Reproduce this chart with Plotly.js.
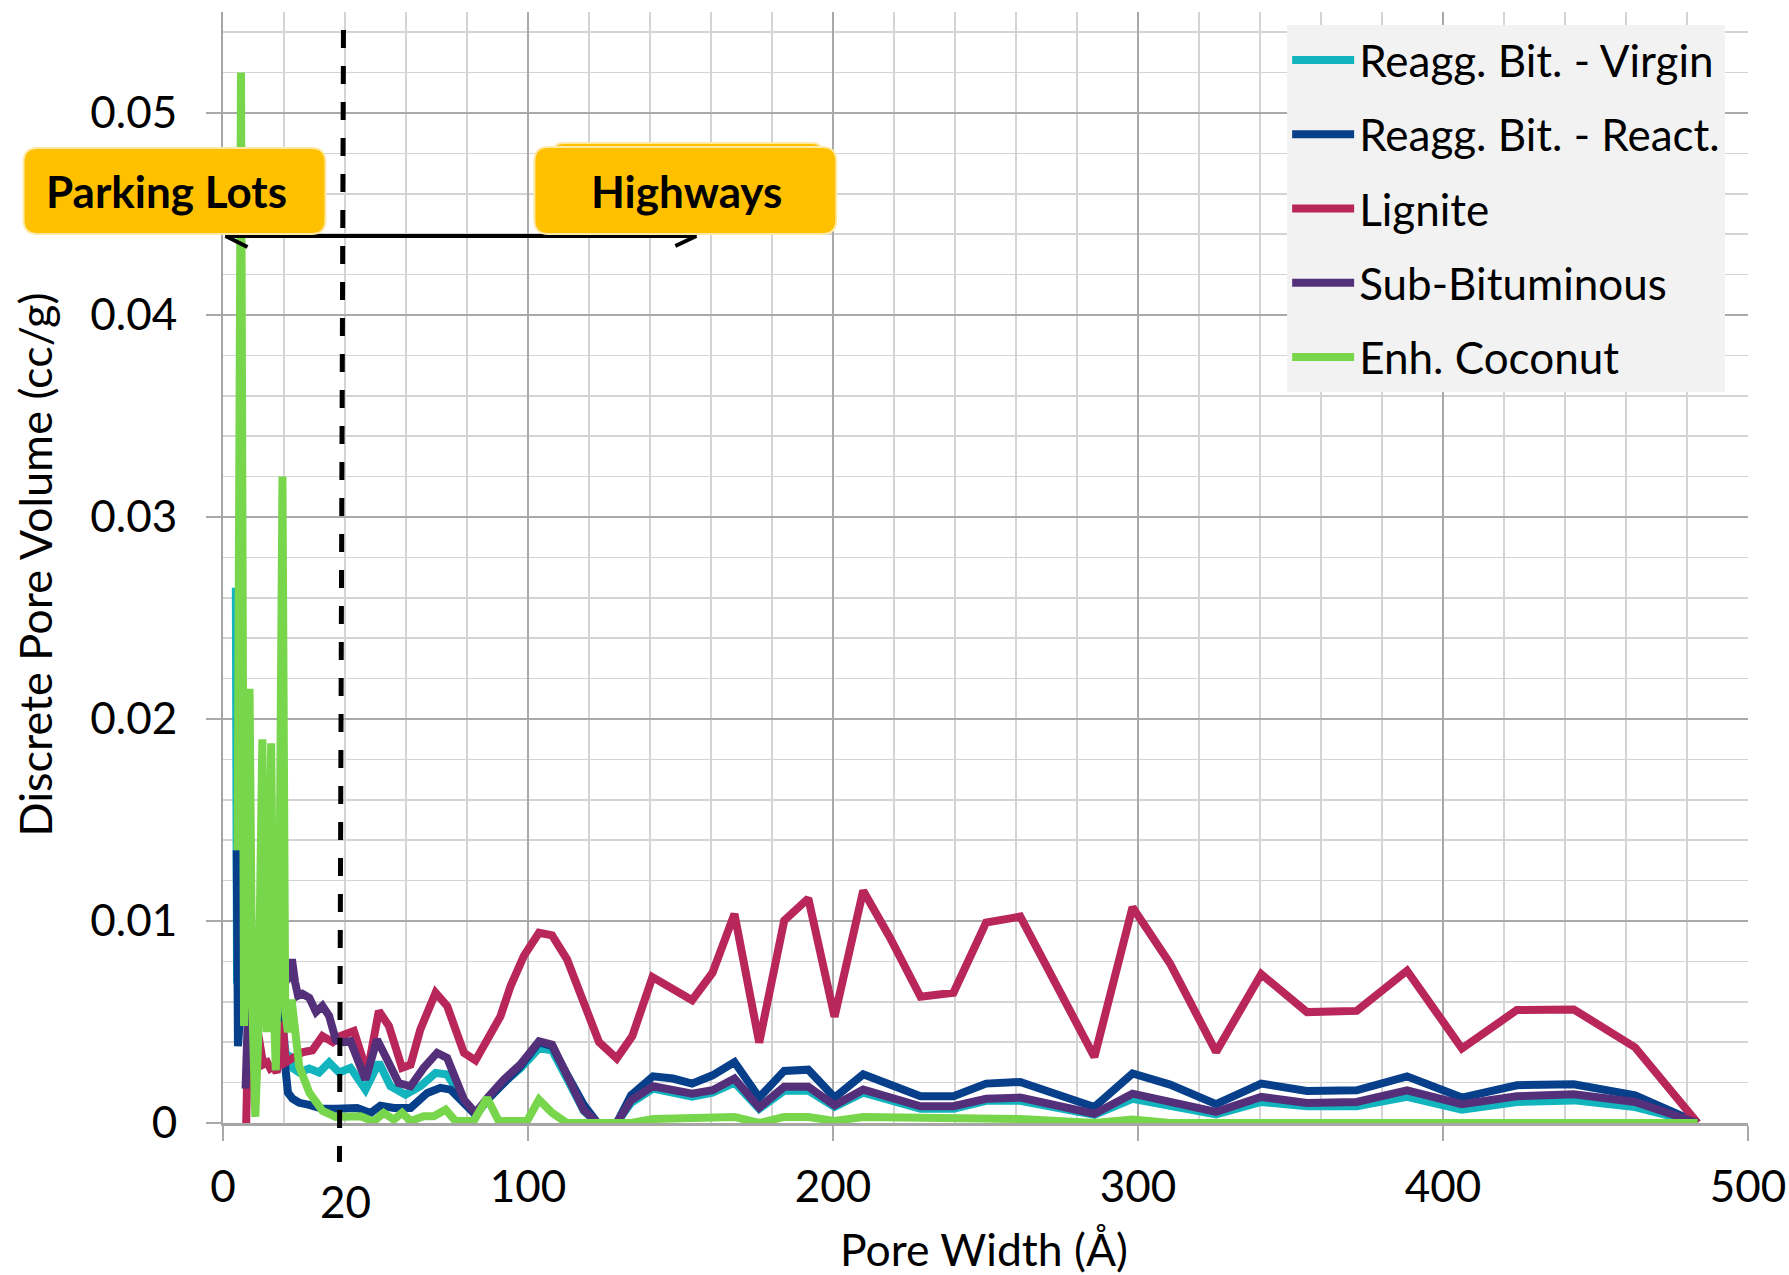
<!DOCTYPE html>
<html>
<head>
<meta charset="utf-8">
<script src="https://cdn.plot.ly/plotly-3.0.1.min.js"></script>
<style>html,body{margin:0;padding:0;background:#fff;}#chart{width:1789px;height:1275px;}</style>
</head>
<body>
<div id="chart"></div>
<script>
// ---- Series names ----
var seriesNames = ["Reagg. Bit. - Virgin", "Reagg. Bit. - React.", "Lignite", "Sub-Bituminous", "Enh. Coconut"];
var seriesColors = ["#12b4bd", "#073f8a", "#b9265a", "#55307a", "#78d64c"];

// ---- Reagg. Bit. - Virgin ----
var xVirgin = [4.2, 4.6, 6.5, 10, 14, 18, 19.8, 20.6, 21.8, 23.0, 25.0, 28.3, 31.5, 34.8, 38.1, 41.8, 46.7, 51.1, 54.9, 59.8, 64.7, 69.7, 73.5, 79.0, 82.8, 87.0, 92.1, 97.5, 103.6, 107.9, 112.8, 118.3, 122.8, 129.1, 133.8, 141.0, 153.8, 160.5, 167.7, 175.8, 184.0, 191.9, 200.5, 209.9, 228.7, 239.5, 250.2, 261.4, 285.7, 298.2, 325.6, 340.4, 355.4, 371.7, 388.2, 406.2, 424.2, 442.9, 463.0, 483.5];
var yVirgin = [0.0265, 0.0070, 0.0062, 0.0066, 0.0062, 0.0058, 0.0045, 0.0034, 0.0033, 0.0027, 0.0025, 0.0027, 0.0025, 0.0030, 0.0025, 0.00273, 0.00165, 0.0030, 0.00182, 0.0014, 0.00182, 0.00248, 0.0024, 0.0011, 0.0004, 0.0012, 0.0020, 0.0027, 0.0037, 0.0036, 0.0022, 0.0006, 0.0, 0.0, 0.0010, 0.0017, 0.0013, 0.0015, 0.0020, 0.0007, 0.0016, 0.0016, 0.0008, 0.0015, 0.0007, 0.0007, 0.0011, 0.0011, 0.0004, 0.0012, 0.00043, 0.00104, 0.00083, 0.00083, 0.00129, 0.00066, 0.00104, 0.00112, 0.00079, 0.0];

// ---- Reagg. Bit. - React. ----
var xReact = [4.5, 4.9, 6.2, 9.0, 12.0, 15.0, 18.0, 19.6, 20.4, 21.3, 22.8, 25.0, 28.3, 32.6, 37.0, 41.0, 44.0, 48.4, 51.6, 56.0, 61.5, 67.0, 71.3, 74.6, 79.0, 82.8, 87.0, 92.1, 97.5, 103.6, 107.9, 112.8, 118.3, 122.8, 129.1, 133.8, 141.0, 147.5, 153.8, 160.5, 167.7, 175.8, 184.0, 191.9, 200.5, 209.9, 218.6, 228.7, 239.5, 250.2, 261.4, 285.7, 298.2, 310.5, 325.6, 340.4, 355.4, 371.7, 388.2, 406.2, 424.2, 442.9, 463.0, 483.5];
var yReact = [0.0135, 0.0038, 0.0065, 0.0070, 0.0068, 0.0065, 0.0060, 0.0045, 0.0028, 0.0015, 0.0012, 0.0010, 0.0009, 0.0007, 0.0007, 0.00074, 0.00074, 0.0005, 0.00086, 0.00074, 0.00074, 0.00149, 0.00174, 0.00165, 0.00091, 0.00041, 0.0012, 0.0020, 0.0028, 0.0040, 0.0038, 0.0024, 0.0009, 0.0, 0.0, 0.00137, 0.00231, 0.0022, 0.00195, 0.00236, 0.00302, 0.00126, 0.00258, 0.00264, 0.00126, 0.00241, 0.0019, 0.00132, 0.00132, 0.00195, 0.00203, 0.00079, 0.00245, 0.0019, 0.00093, 0.00195, 0.00159, 0.00162, 0.00231, 0.00126, 0.00187, 0.00192, 0.00137, 0.0];

// ---- Lignite ----
var xLignite = [7.6, 8.4, 10.0, 12.2, 13.2, 14.5, 15.5, 16.5, 17.6, 18.8, 19.6, 20.5, 21.7, 24.0, 26.0, 29.3, 32.6, 36.0, 38.5, 42.9, 47.3, 51.1, 54.4, 58.7, 61.5, 64.7, 69.7, 73.5, 79.0, 82.8, 86.6, 91.0, 94.3, 98.6, 103.6, 107.9, 112.8, 117.8, 123.3, 129.1, 134.2, 140.8, 153.8, 160.5, 167.7, 175.8, 184.0, 191.9, 200.5, 209.9, 218.6, 228.7, 239.5, 250.2, 261.4, 285.7, 298.2, 310.5, 325.6, 340.4, 355.4, 371.7, 388.2, 406.2, 424.2, 442.9, 463.0, 483.5];
var yLignite = [0.0, 0.0055, 0.0058, 0.0040, 0.0029, 0.0030, 0.0027, 0.0028, 0.0025, 0.0035, 0.0050, 0.0030, 0.0031, 0.0034, 0.0035, 0.0036, 0.0043, 0.0040, 0.0043, 0.00455, 0.00248, 0.00554, 0.0048, 0.00273, 0.00289, 0.00463, 0.00645, 0.00579, 0.00347, 0.0031, 0.00405, 0.00529, 0.00678, 0.00826, 0.00942, 0.00929, 0.0081, 0.00612, 0.0040, 0.0032, 0.0043, 0.00722, 0.00608, 0.00744, 0.01035, 0.00398, 0.01002, 0.01112, 0.00526, 0.0115, 0.0092, 0.00625, 0.00645, 0.00992, 0.01022, 0.00327, 0.01068, 0.0079, 0.00352, 0.00737, 0.00549, 0.00555, 0.00754, 0.00369, 0.00559, 0.00562, 0.00374, 0.0];

// ---- Sub-Bituminous ----
var xSubBit = [7.4, 8.4, 12.0, 15.0, 18.0, 20.5, 21.6, 22.6, 23.6, 24.6, 26.0, 28.3, 30.5, 32.6, 34.8, 37.0, 39.5, 41.8, 46.7, 50.5, 53.8, 57.6, 61.5, 65.8, 70.2, 73.5, 79.0, 82.8, 87.0, 92.1, 97.5, 103.6, 107.9, 112.8, 118.3, 122.8, 129.1, 133.8, 141.0, 153.8, 160.5, 167.7, 175.8, 184.0, 191.9, 200.5, 209.9, 228.7, 239.5, 250.2, 261.4, 285.7, 298.2, 325.6, 340.4, 355.4, 371.7, 388.2, 406.2, 424.2, 442.9, 463.0, 483.5];
var ySubBit = [0.0017, 0.0065, 0.0068, 0.0070, 0.0074, 0.0070, 0.0072, 0.0081, 0.0070, 0.0063, 0.0064, 0.0062, 0.0055, 0.0058, 0.0053, 0.0041, 0.0040, 0.00405, 0.00215, 0.00413, 0.00314, 0.00198, 0.00182, 0.00273, 0.00347, 0.00322, 0.00116, 0.0005, 0.0013, 0.00215, 0.0029, 0.00405, 0.00388, 0.00231, 0.00063, 0.0, 0.0, 0.00112, 0.00182, 0.00145, 0.00162, 0.0022, 0.00076, 0.00179, 0.00179, 0.00088, 0.00165, 0.00083, 0.00083, 0.0012, 0.00126, 0.00046, 0.00145, 0.00055, 0.00129, 0.00099, 0.00104, 0.00162, 0.00093, 0.00132, 0.00142, 0.00104, 0.0];

// ---- Enh. Coconut ----
var xCoconut = [4.8, 5.9, 6.9, 7.8, 8.7, 9.6, 10.6, 11.5, 12.3, 12.9, 13.6, 14.3, 15.1, 15.8, 16.6, 17.3, 18.5, 19.5, 20.4, 21.3, 22.5, 25.0, 28.3, 32.6, 37.0, 42.9, 45.1, 49.4, 52.7, 56.0, 58.7, 61.5, 65.8, 69.1, 73.0, 76.2, 82.2, 86.6, 90.4, 99.7, 103.6, 107.9, 112.8, 133.8, 141.0, 167.7, 175.8, 184.0, 191.9, 200.5, 209.9, 261.4, 285.7, 298.2, 310.5, 483.5];
var yCoconut = [0.0135, 0.0520, 0.0048, 0.0120, 0.0215, 0.0060, 0.0003, 0.0040, 0.0110, 0.0190, 0.0070, 0.0045, 0.0120, 0.0188, 0.0062, 0.0026, 0.0110, 0.0320, 0.0055, 0.0045, 0.0061, 0.0028, 0.0015, 0.0006, 0.0003, 0.0003, 0.00033, 0.00008, 0.0005, 0.00017, 0.0005, 0.0001, 0.00033, 0.00033, 0.00066, 0.0001, 0.0001, 0.00124, 0.0001, 0.0001, 0.00116, 0.0005, 0.0, 0.0, 0.0002, 0.0003, 0.0, 0.0003, 0.0003, 0.0001, 0.0003, 0.0002, 0.0, 0.00017, 0.0, 0.0];

// ---- Axis tick labels / text ----
var xTickVals = [0, 100, 200, 300, 400, 500];
var yTickVals = [0, 0.01, 0.02, 0.03, 0.04, 0.05];
var yTickText = ["0", "0.01", "0.02", "0.03", "0.04", "0.05"];
var xTitle = "Pore Width (Å)";
var yTitle = "Discrete Pore Volume (cc/g)";
var labelParking = "Parking Lots";
var labelHighways = "Highways";
var labelMarker = "20";

var xs = [xVirgin, xReact, xLignite, xSubBit, xCoconut];
var ys = [yVirgin, yReact, yLignite, ySubBit, yCoconut];

var traces = seriesNames.map(function (n, i) {
  return {
    type: "scatter", mode: "lines", name: n, x: xs[i], y: ys[i],
    line: {color: seriesColors[i], width: 8},
    legendgroup: "g" + i, hoverinfo: "skip"
  };
});

var FONT = 'Lato, "Noto Sans", sans-serif';
var W = 1789, H = 1275, L = 222.5, R = 1748, T = 12, B = 1123;
function px(X) { return (X - L) / (R - L); }
function py(Y) { return (B - Y) / (B - T); }
function rrect(X0, Y0, X1, Y1, r) {
  var x0 = px(X0), x1 = px(X1), y0 = py(Y1), y1 = py(Y0);
  var rx = r / (R - L), ry = r / (B - T);
  return "M" + (x0 + rx) + "," + y0 + " L" + (x1 - rx) + "," + y0 + " Q" + x1 + "," + y0 + " " + x1 + "," + (y0 + ry) +
    " L" + x1 + "," + (y1 - ry) + " Q" + x1 + "," + y1 + " " + (x1 - rx) + "," + y1 +
    " L" + (x0 + rx) + "," + y1 + " Q" + x0 + "," + y1 + " " + x0 + "," + (y1 - ry) +
    " L" + x0 + "," + (y0 + ry) + " Q" + x0 + "," + y0 + " " + (x0 + rx) + "," + y0 + " Z";
}
function seg(X0, Y0, X1, Y1) {
  return {type: "line", xref: "paper", yref: "paper", x0: px(X0), y0: py(Y0), x1: px(X1), y1: py(Y1),
    line: {color: "#000", width: 4}, layer: "above"};
}

var shapes = [
  seg(225, 236, 696, 236),
  seg(225, 236, 247, 247),
  seg(225, 236, 247, 225),
  seg(696, 236, 675, 246),
  seg(696, 236, 675, 226),
  {type: "path", xref: "paper", yref: "paper", path: rrect(23, 148, 325, 234, 14), fillcolor: "#FFC000", line: {color: "#ffe9a8", width: 2}, layer: "above"},
  {type: "path", xref: "paper", yref: "paper", path: rrect(553, 143, 822, 200, 10), fillcolor: "#FFC000", line: {color: "#ffe9a8", width: 2}, layer: "above"},
  {type: "path", xref: "paper", yref: "paper", path: rrect(534, 147, 836, 234, 14), fillcolor: "#FFC000", line: {color: "#ffe9a8", width: 2}, layer: "above"},
  {type: "line", xref: "paper", yref: "paper", x0: px(343), y0: py(30), x1: px(339), y1: py(1162), line: {color: "#000", width: 5, dash: "18px,18px"}, layer: "above"}
];

var annotations = [
  {xref: "paper", yref: "paper", x: px(166), y: py(191), text: "<b>" + labelParking + "</b>", showarrow: false, xanchor: "center", yanchor: "middle", font: {family: FONT, size: 44, color: "#000"}},
  {xref: "paper", yref: "paper", x: px(686), y: py(191), text: "<b>" + labelHighways + "</b>", showarrow: false, xanchor: "center", yanchor: "middle", font: {family: FONT, size: 44, color: "#000"}},
  {xref: "paper", yref: "paper", x: px(345), y: py(1201), text: labelMarker, showarrow: false, xanchor: "center", yanchor: "middle", font: {family: FONT, size: 44, color: "#000"}},
  {xref: "paper", yref: "paper", x: px(984), y: py(1248), text: xTitle, showarrow: false, xanchor: "center", yanchor: "middle", font: {family: FONT, size: 44.5, color: "#000"}},
  {xref: "paper", yref: "paper", x: px(34), y: py(565), text: yTitle, textangle: -90, showarrow: false, xanchor: "center", yanchor: "middle", font: {family: FONT, size: 45, color: "#000"}}
];

var layout = {
  width: W, height: H,
  margin: {l: L, r: W - R, t: T, b: H - B, pad: 0},
  paper_bgcolor: "#fff", plot_bgcolor: "#fff",
  font: {family: FONT, size: 44, color: "#000"},
  showlegend: true,
  legend: {x: px(1287), y: py(25), xanchor: "left", yanchor: "top", bgcolor: "#f2f2f2", borderwidth: 0,
    font: {family: FONT, size: 44, color: "#000"}, traceorder: "grouped", tracegroupgap: 14, itemwidth: 62},
  xaxis: {
    range: [0, 500], tickvals: xTickVals, ticktext: xTickVals.map(String),
    showgrid: true, gridcolor: "#a9a9a9", gridwidth: 2,
    minor: {dtick: 20, tick0: 0, showgrid: true, gridcolor: "#d4d4d4", gridwidth: 1.5, ticks: ""},
    ticks: "outside", ticklen: 15, tickwidth: 2, tickcolor: "#a9a9a9",
    showline: true, linecolor: "#a6a6a6", linewidth: 3, zeroline: false,
    ticklabelstandoff: 8, tickfont: {family: FONT, size: 44, color: "#000"}, fixedrange: true
  },
  yaxis: {
    range: [0, 0.055], tickvals: yTickVals, ticktext: yTickText,
    showgrid: true, gridcolor: "#a9a9a9", gridwidth: 2,
    minor: {dtick: 0.002, tick0: 0, showgrid: true, gridcolor: "#d4d4d4", gridwidth: 1.5, ticks: ""},
    ticks: "outside", ticklen: 15, tickwidth: 2, tickcolor: "#a9a9a9",
    showline: true, linecolor: "#a6a6a6", linewidth: 2, zeroline: false,
    ticklabelstandoff: 20, tickfont: {family: FONT, size: 44, color: "#000"}, fixedrange: true
  },
  shapes: shapes,
  annotations: annotations,
  hovermode: false
};

Plotly.newPlot("chart", traces, layout, {displayModeBar: false, staticPlot: true});
</script>
</body>
</html>
